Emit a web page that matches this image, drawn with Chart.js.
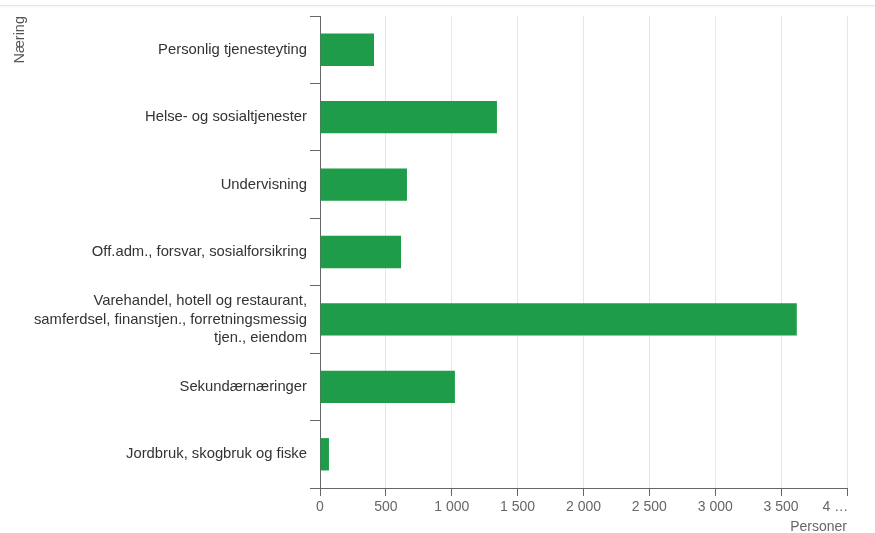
<!DOCTYPE html>
<html>
<head>
<meta charset="utf-8">
<script src="https://cdn.jsdelivr.net/npm/chart.js@4"></script>
<style>
  html, body { margin: 0; padding: 0; background: #fff; }
  #wrap { position: relative; width: 875px; height: 533px; }
  #topline { position: absolute; left: 0; top: 5px; width: 875px; height: 1px; background: #e4e4e4; box-shadow: 0 1px 2px rgba(0,0,0,0.06); }
  canvas { position: absolute; left: 0; top: 0; }
</style>
</head>
<body>
<div id="wrap">
  <div id="topline"></div>
  <canvas id="c" width="875" height="533"></canvas>
</div>
<script>
const categories = [
  "Personlig tjenesteyting",
  "Helse- og sosialtjenester",
  "Undervisning",
  "Off.adm., forsvar, sosialforsikring",
  ["Varehandel, hotell og restaurant,", "samferdsel, finanstjen., forretningsmessig", "tjen., eiendom"],
  "Sekundærnæringer",
  "Jordbruk, skogbruk og fiske"
];
const personer = [410, 1343, 660, 615, 3619, 1024, 68];
const tickLabels = { 0: "0", 500: "500", 1000: "1 000", 1500: "1 500", 2000: "2 000", 2500: "2 500", 3000: "3 000", 3500: "3 500", 4000: "4 …\u00a0\u00a0\u00a0\u00a0\u00a0\u00a0" };
const xTitle = "Personer";
const yTitle = "Næring";

const font = "'Liberation Sans', Arial, sans-serif";

new Chart(document.getElementById('c'), {
  type: 'bar',
  data: {
    labels: categories,
    datasets: [{
      label: xTitle,
      data: personer,
      backgroundColor: '#1e9c4a',
      borderWidth: 0,
      barPercentage: 0.48,
      categoryPercentage: 1.0
    }]
  },
  options: {
    indexAxis: 'y',
    responsive: false,
    animation: false,
    layout: { padding: { top: 16, right: 28, left: 11, bottom: 0 } },
    plugins: { legend: { display: false }, tooltip: { enabled: false } },
    scales: {
      x: {
        type: 'linear',
        min: 0, max: 4000,
        afterFit: s => { s.height = 45; },
        ticks: {
          stepSize: 500,
          autoSkip: false,
          maxRotation: 0,
          padding: 3,
          color: '#666',
          font: { family: font, size: 14 },
          callback: v => tickLabels[v] !== undefined ? tickLabels[v] : ''
        },
        grid: { color: '#e6e6e6', tickColor: '#666', tickLength: 8, lineWidth: 1 },
        border: { color: '#666', width: 1 },
        title: {
          display: true, text: xTitle, align: 'end',
          color: '#666', font: { family: font, size: 14, lineHeight: 0.8 },
          padding: { top: 0, bottom: 0 }
        }
      },
      y: {
        afterFit: s => { s.width = 309; },
        ticks: {
          padding: 3,
          color: '#333',
          autoSkip: false,
          font: { family: font, size: 14.8, lineHeight: 1.22 }
        },
        grid: { drawOnChartArea: false, offset: true, tickColor: '#666', tickLength: 10 },
        border: { color: '#666', width: 1 },
        title: {
          display: true, text: yTitle, align: 'end',
          color: '#555', font: { family: font, size: 14.5 },
          padding: { top: 0, bottom: 0 }
        }
      }
    }
  }
});
</script>
</body>
</html>
